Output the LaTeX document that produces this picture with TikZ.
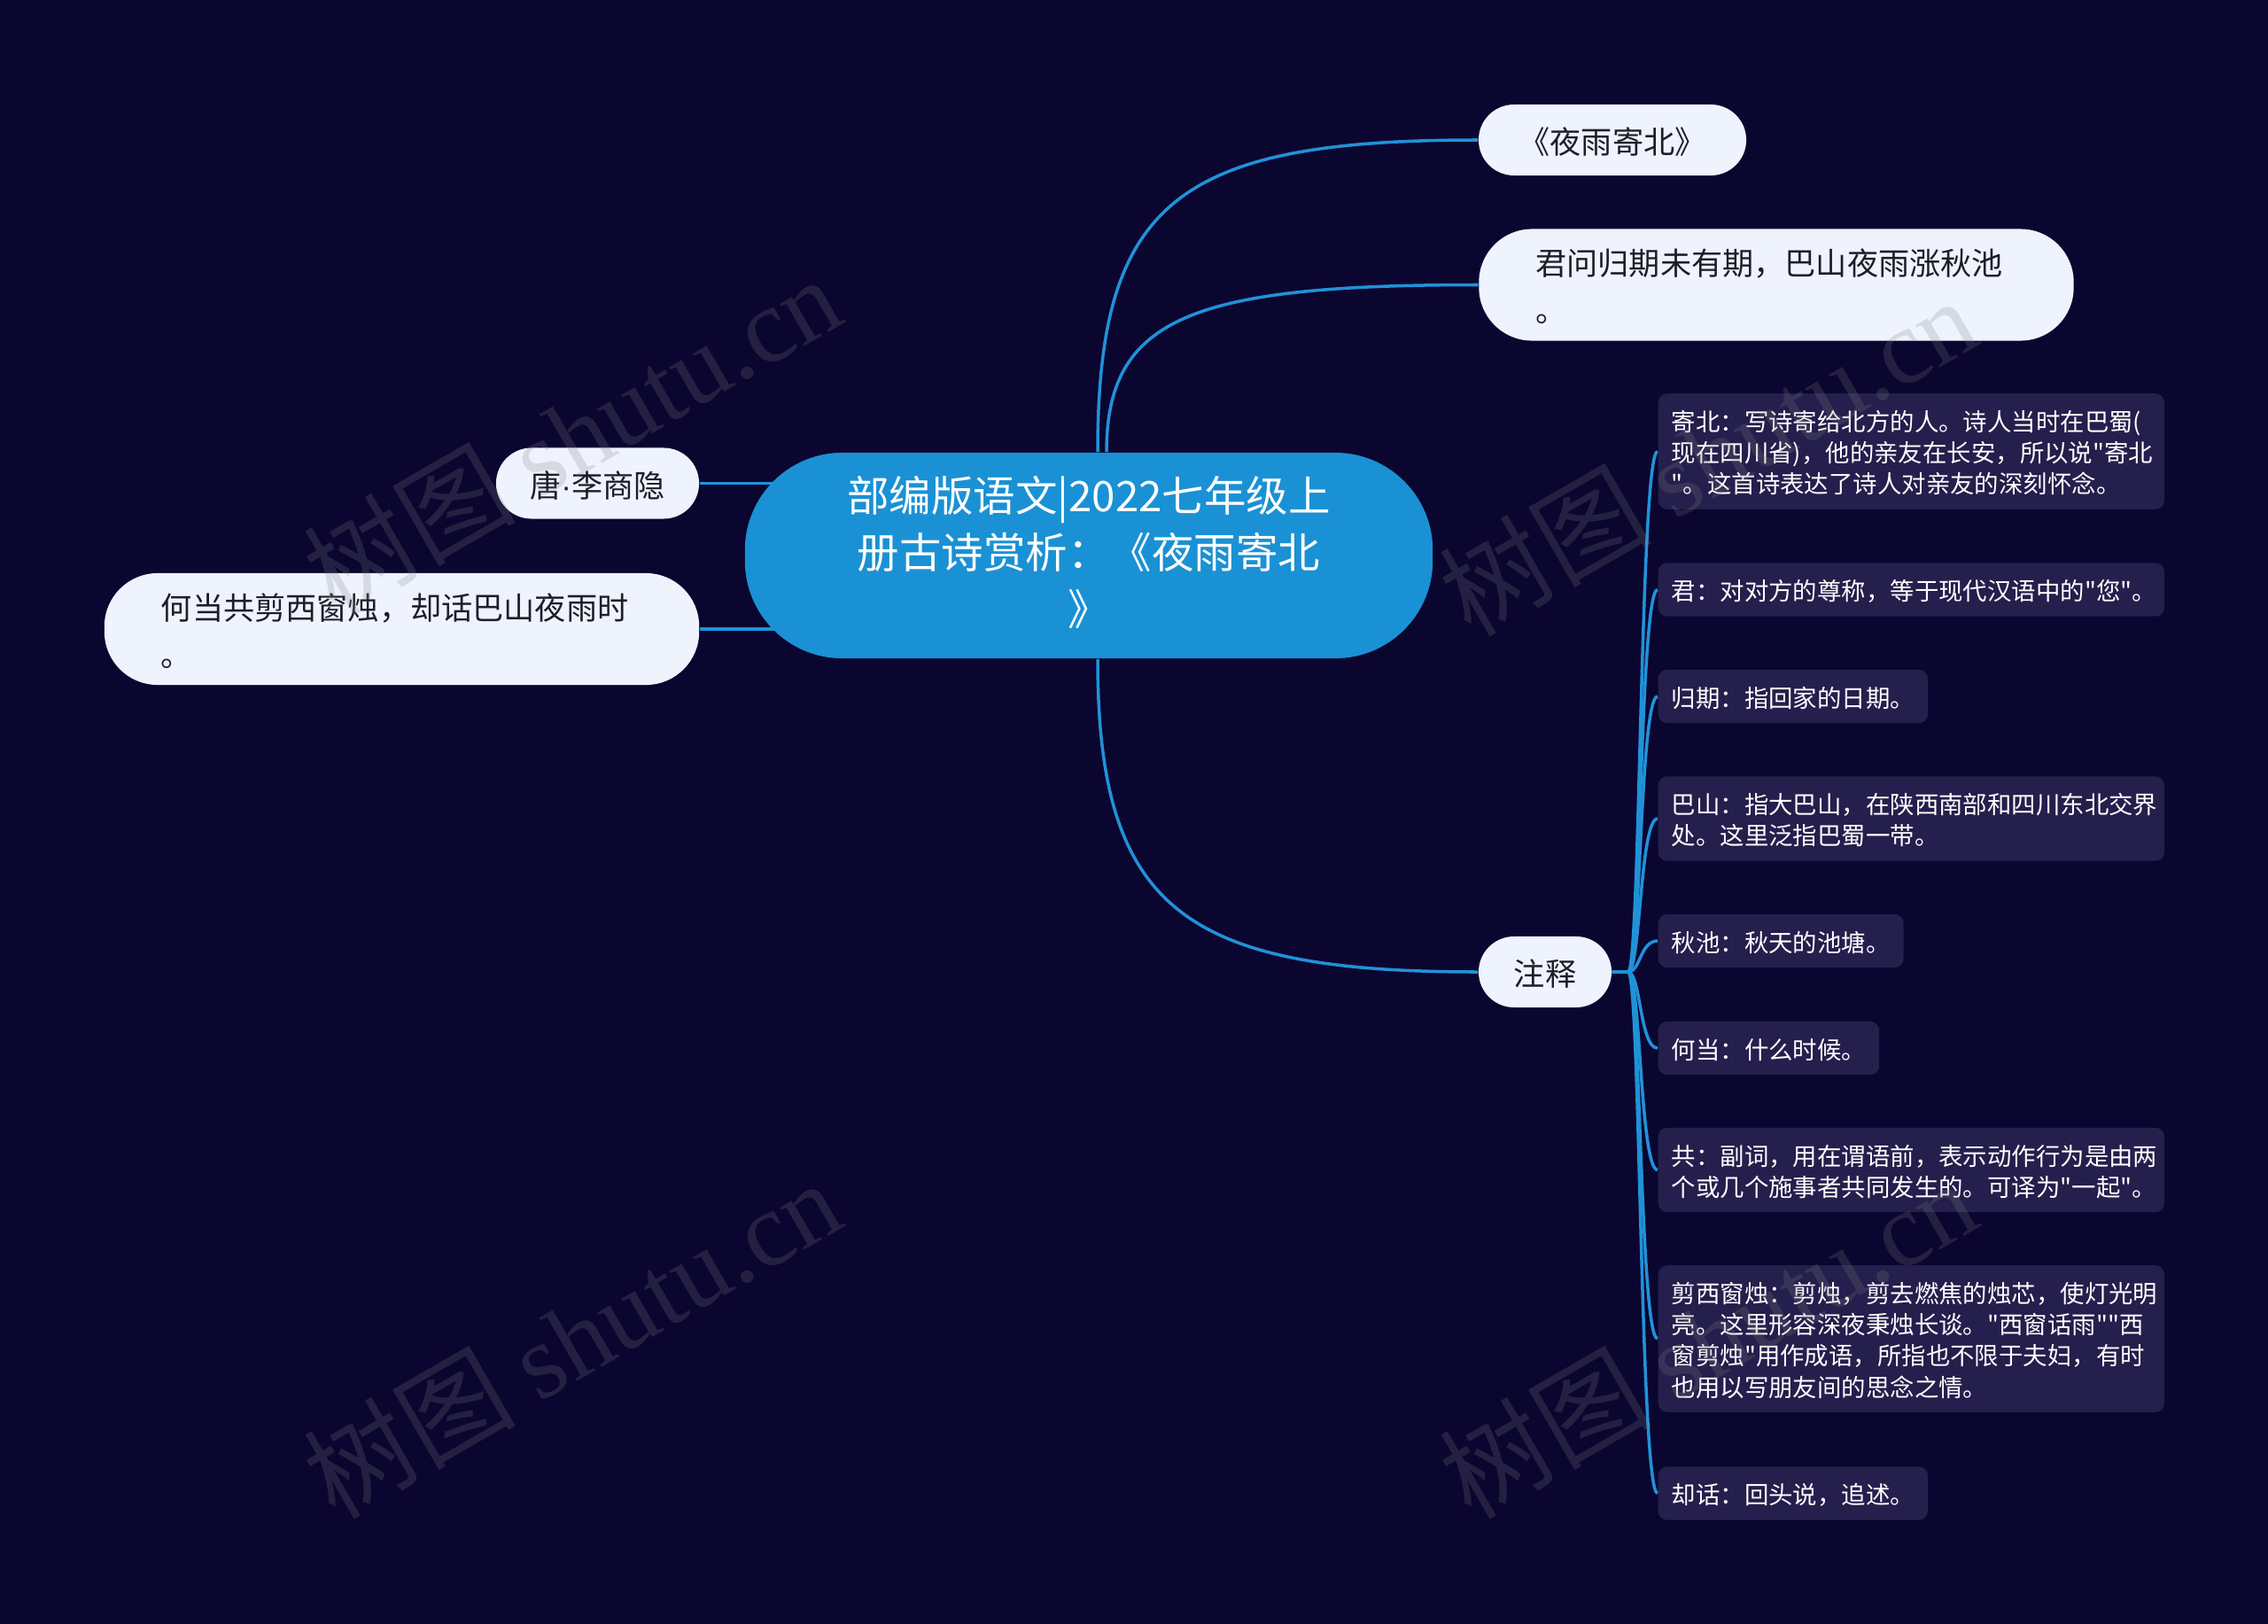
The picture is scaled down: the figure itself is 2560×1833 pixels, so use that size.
\documentclass[tikz,border=0pt]{standalone}
\usepackage{fontspec}
\setmainfont{Noto Sans CJK SC}
\setmonofont{Noto Sans CJK SC}
\newfontfamily\wmserif{Liberation Serif}
\newfontfamily\latinsans{Liberation Sans}
\usetikzlibrary{positioning}

\definecolor{navy}{RGB}{11,6,48}
\definecolor{rootblue}{RGB}{26,145,212}
\definecolor{linkblue}{RGB}{32,146,216}
\definecolor{paleblue}{RGB}{238,243,253}
\definecolor{notebg}{RGB}{36,31,76}
\definecolor{inkdark}{RGB}{30,30,40}

\pgfdeclarelayer{bg}
\pgfdeclarelayer{links}
\pgfsetlayers{bg,links,main}

\begin{document}
\begin{tikzpicture}[
	x=0.01cm, y=-0.01cm,
	link/.style={draw=linkblue, line width=1pt},
	root/.style={fill=rootblue, text=white, rounded corners=1.1cm, minimum width=7.76cm, minimum height=2.32cm,
		align=center, font=\fontsize{13.5}{18.2}\selectfont, execute at begin node=\rule{0pt}{14.8pt},
		execute at end node=\rule[-3.4pt]{0pt}{3.4pt}},
	topic/.style={fill=paleblue, text=inkdark, rounded corners=0.4cm, minimum height=0.8cm, inner ysep=0.05cm,
		font=\fontsize{10}{15}\selectfont, execute at begin node=\rule{0pt}{12pt},
		execute at end node=\rule[-3pt]{0pt}{3pt}},
	wide topic/.style={text width=5.43cm, align=left, inner xsep=0.64cm, minimum height=1.26cm, rounded corners=0.6cm},
	note/.style={fill=notebg, text=white, rounded corners=0.1cm, anchor=west, align=left, inner xsep=0.15cm, inner ysep=0.125cm,
		font=\ttfamily\fontsize{7.8}{10}\selectfont, execute at begin node=\rule{0pt}{8.5pt},
		execute at end node=\rule[-1.5pt]{0pt}{1.5pt}},
	wide note/.style={text width=5.41cm},
	watermark/.style={text=gray, opacity=0.22, rotate=30, font=\fontsize{34}{40}\selectfont}
	]
	
	\begin{pgfonlayer}{bg}
		\fill[navy] (0,0) rectangle (2560,1833);
	\end{pgfonlayer}
	
	% --- root and first level ---
	\node[root] (title) at (1229,627) {部编版语文|2022七年级上\\册古诗赏析：《夜雨寄北\\》};
	
	\node[topic, minimum width=3.02cm] (poem) at (1820,158) {《夜雨寄北》};
	\node[topic, wide topic] (verse) at (2005,321.5) {君问归期未有期，巴山夜雨涨秋池\\。};
	\node[topic, minimum width=1.5cm] (zhushi) at (1744,1097) {注释};
	
	\node[topic, minimum width=2.29cm] (author) at (674.5,545.5) {唐{\latinsans ·}李商隐};
	\node[topic, wide topic] (couplet) at (453.5,710) {何当共剪西窗烛，却话巴山夜雨时\\。};
	
	% --- notes ---
	\node[note, wide note] (jibei) at (1871,509.5) {寄北：写诗寄给北方的人。诗人当时在巴蜀(\\现在四川省)，他的亲友在长安，所以说"寄北\\"。这首诗表达了诗人对亲友的深刻怀念。};
	\node[note, wide note] (jun) at (1871,665.5) {君：对对方的尊称，等于现代汉语中的"您"。};
	\node[note] (guiqi) at (1871,786) {归期：指回家的日期。};
	\node[note, wide note] (bashan) at (1871,924) {巴山：指大巴山，在陕西南部和四川东北交界\\处。这里泛指巴蜀一带。};
	\node[note] (qiuchi) at (1871,1062) {秋池：秋天的池塘。};
	\node[note] (hedang) at (1871,1183) {何当：什么时候。};
	\node[note, wide note] (gong) at (1871,1320.5) {共：副词，用在谓语前，表示动作行为是由两\\个或几个施事者共同发生的。可译为"一起"。};
	\node[note, wide note] (jianzhu) at (1871,1511) {剪西窗烛：剪烛，剪去燃焦的烛芯，使灯光明\\亮。这里形容深夜秉烛长谈。"西窗话雨""西\\窗剪烛"用作成语，所指也不限于夫妇，有时\\也用以写朋友间的思念之情。};
	\node[note] (quehua) at (1871,1685.5) {却话：回头说，追述。};
	
	% --- connectors ---
	\begin{pgfonlayer}{links}
		\draw[link] ([xshift=0.1cm]title.north) .. controls +(0,-283) and +(-339,0) .. (poem.west);
		\draw[link] ([xshift=0.2cm]title.north) .. controls +(0,-152) and +(-323,0) .. (verse.west);
		\draw[link] ([xshift=0.1cm]title.south) .. controls +(0,283) and +(-331,0) .. (zhushi.west);
		\draw[link] (author.east) -- (author.east -| title.center);
		\draw[link] (couplet.east) -- (couplet.east -| title.center);
		\foreach \nt in {jibei,jun,guiqi,bashan,qiuchi,hedang,gong,jianzhu,quehua}
			\draw[link] (zhushi.east) -- ++(18,0) .. controls +(14,0) and +(-20,0) .. (\nt.west);
	\end{pgfonlayer}
	
	% --- watermarks ---
	\node[watermark] (wm1) at (645,490) {树图 {\wmserif shutu.cn}};
	\node[watermark] (wm2) at (645,1510) {树图 {\wmserif shutu.cn}};
	\node[watermark] (wm3) at (1927,514) {树图 {\wmserif shutu.cn}};
	\node[watermark] (wm4) at (1927,1510) {树图 {\wmserif shutu.cn}};
	
\end{tikzpicture}
\end{document}
